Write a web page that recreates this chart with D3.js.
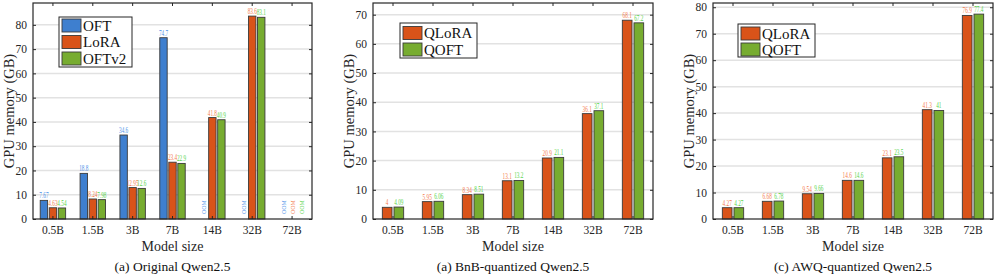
<!DOCTYPE html>
<html>
<head>
<meta charset="utf-8">
<script src="https://cdn.jsdelivr.net/npm/d3@7"></script>
<style>
  body { margin: 0; background: #fff; }
  text { font-family: "Liberation Serif", "Times New Roman", serif; }
</style>
</head>
<body>
<svg id="chart" width="996" height="276"></svg>
<script>
// categories and series values (null = OOM)
const modelSizes = ["0.5B", "1.5B", "3B", "7B", "14B", "32B", "72B"];

const oft   = [7.67, 18.8, 34.6, 74.7, null, null, null];
const lora  = [4.63, 8.24, 12.95, 23.4, 41.8, 83.6, null];
const oftv2 = [4.54, 7.98, 12.6, 22.9, 40.9, 83.1, null];

const bnbQlora = [4, 5.95, 8.34, 13.1, 20.9, 36.1, 68.1];
const bnbQoft  = [4.09, 6.06, 8.51, 13.2, 21.1, 37.1, 67.2];

const awqQlora = [4.27, 6.68, 9.54, 14.6, 23.1, 41.3, 76.9];
const awqQoft  = [4.27, 6.78, 9.66, 14.6, 23.5, 41, 77.4];

const ticks1 = [0, 10, 20, 30, 40, 50, 60, 70, 80];
const ticks2 = [0, 10, 20, 30, 40, 50, 60, 70];
const ticks3 = [0, 10, 20, 30, 40, 50, 60, 70, 80];

const captions = ["(a) Original Qwen2.5", "(a) BnB-quantized Qwen2.5", "(c) AWQ-quantized Qwen2.5"];

const BLUE = "#3e7fcf", ORANGE = "#d95319", GREEN = "#77ac30";
const LBL = { blue: "#4a90e8", orange: "#f47a4c", green: "#56d44a" };

const svg = d3.select("#chart");
const plotTop = 3, plotBottom = 219;

function drawPanel(p) {
  const g = svg.append("g");
  const x0 = d3.scaleBand().domain(modelSizes).range([p.left, p.right]).padding(0);
  const names = p.series.map(s => s.name);
  const x1 = d3.scaleBand().domain(names).range([0, x0.bandwidth()])
    .paddingInner(p.series.length === 3 ? 0.18 : 0.17).paddingOuter(0.8);
  const y = d3.scaleLinear().domain([0, p.ymax]).range([plotBottom, plotTop]);

  // grid
  g.selectAll(".grid").data(p.ticks.filter(t => t > 0)).enter().append("line")
    .attr("x1", p.left).attr("x2", p.right)
    .attr("y1", d => y(d)).attr("y2", d => y(d))
    .attr("stroke", "#e2e2e2").attr("stroke-width", 1.5);

  // bars
  p.series.forEach(s => {
    s.values.forEach((v, i) => {
      const bx = x0(modelSizes[i]) + x1(s.name);
      const cx = bx + x1.bandwidth() / 2;
      if (v === null) {
        // squeezed vertical OOM tag
        g.append("text")
          .attr("transform", `translate(${cx + 2.5},${plotBottom - 5}) rotate(-90) scale(0.85,1)`)
          .attr("font-size", 7).attr("fill", s.lbl).text("OOM");
        return;
      }
      g.append("rect")
        .attr("x", bx).attr("y", y(v))
        .attr("width", x1.bandwidth()).attr("height", plotBottom - y(v))
        .attr("fill", s.color).attr("stroke", "#3a3a3a").attr("stroke-width", 0.9);
      g.append("text")
        .attr("transform", `translate(${cx},${y(v) - 2}) scale(0.7,1)`)
        .attr("text-anchor", "middle").attr("font-size", 7.5)
        .attr("fill", s.lbl).text(v);
    });
  });

  // axes frame and ticks
  const yl = d3.axisLeft(y).tickValues(p.ticks).tickSize(-3).tickPadding(6);
  const ya = g.append("g").attr("transform", `translate(${p.left},0)`).call(yl);
  ya.select(".domain").remove();
  ya.selectAll("text").attr("font-size", 11.5).attr("fill", "#262626")
    .attr("font-family", "Liberation Serif, serif");
  ya.selectAll("line").attr("stroke", "#262626");

  const yr = d3.axisRight(y).tickValues(p.ticks).tickSize(-3).tickFormat("");
  const yra = g.append("g").attr("transform", `translate(${p.right},0)`).call(yr);
  yra.select(".domain").remove();
  yra.selectAll("line").attr("stroke", "#262626");

  const xb = d3.axisBottom(x0).tickSize(-3).tickPadding(7);
  const xa = g.append("g").attr("transform", `translate(0,${plotBottom})`).call(xb);
  xa.select(".domain").remove();
  xa.selectAll("text").attr("font-size", 11.5).attr("fill", "#262626")
    .attr("font-family", "Liberation Serif, serif");
  xa.selectAll("line").attr("stroke", "#262626");

  const xt = d3.axisTop(x0).tickSize(-3).tickFormat("");
  const xta = g.append("g").attr("transform", `translate(0,${plotTop})`).call(xt);
  xta.select(".domain").remove();
  xta.selectAll("line").attr("stroke", "#262626");

  g.append("rect")
    .attr("x", p.left).attr("y", plotTop)
    .attr("width", p.right - p.left).attr("height", plotBottom - plotTop)
    .attr("fill", "none").attr("stroke", "#262626").attr("stroke-width", 1.2);

  // labels
  g.append("text")
    .attr("transform", `translate(${p.left - 24},${(plotTop + plotBottom) / 2}) rotate(-90)`)
    .attr("text-anchor", "middle").attr("dominant-baseline", "central")
    .attr("font-size", 14.5).attr("fill", "#262626").text("GPU memory (GB)");
  const mid = (p.left + p.right) / 2;
  g.append("text").attr("x", mid).attr("y", 251)
    .attr("text-anchor", "middle").attr("font-size", 14).attr("fill", "#262626")
    .text("Model size");
  g.append("text").attr("x", mid).attr("y", 271)
    .attr("text-anchor", "middle").attr("font-size", 13.5).attr("fill", "#111")
    .text(p.caption);

  // legend
  const L = p.legend;
  const lg = g.append("g");
  lg.append("rect").attr("x", L.x).attr("y", L.y).attr("width", L.w).attr("height", L.h)
    .attr("fill", "#fff").attr("stroke", "#262626").attr("stroke-width", 1);
  p.series.forEach((s, i) => {
    const cy = L.y + L.first + i * L.step;
    lg.append("rect").attr("x", L.x + 3).attr("y", cy - 6.5).attr("width", 19).attr("height", 13)
      .attr("fill", s.color).attr("stroke", "#3a3a3a").attr("stroke-width", 0.9);
    lg.append("text").attr("x", L.x + 24).attr("y", cy).attr("dominant-baseline", "central")
      .attr("font-size", 15).attr("fill", "#111").text(s.name);
  });
}

drawPanel({
  left: 33, right: 312, ymax: 89, ticks: ticks1, caption: captions[0],
  series: [
    { name: "OFT", values: oft, color: BLUE, lbl: LBL.blue },
    { name: "LoRA", values: lora, color: ORANGE, lbl: LBL.orange },
    { name: "OFTv2", values: oftv2, color: GREEN, lbl: LBL.green }
  ],
  legend: { x: 59, y: 17, w: 73, h: 50, first: 8.5, step: 16.5 }
});

drawPanel({
  left: 373, right: 653, ymax: 74, ticks: ticks2, caption: captions[1],
  series: [
    { name: "QLoRA", values: bnbQlora, color: ORANGE, lbl: LBL.orange },
    { name: "QOFT", values: bnbQoft, color: GREEN, lbl: LBL.green }
  ],
  legend: { x: 400, y: 23, w: 77, h: 35, first: 10, step: 16.5 }
});

drawPanel({
  left: 713, right: 993, ymax: 81.6, ticks: ticks3, caption: captions[2],
  series: [
    { name: "QLoRA", values: awqQlora, color: ORANGE, lbl: LBL.orange },
    { name: "QOFT", values: awqQoft, color: GREEN, lbl: LBL.green }
  ],
  legend: { x: 738, y: 24, w: 77, h: 33, first: 9.5, step: 16 }
});
</script>
</body>
</html>
